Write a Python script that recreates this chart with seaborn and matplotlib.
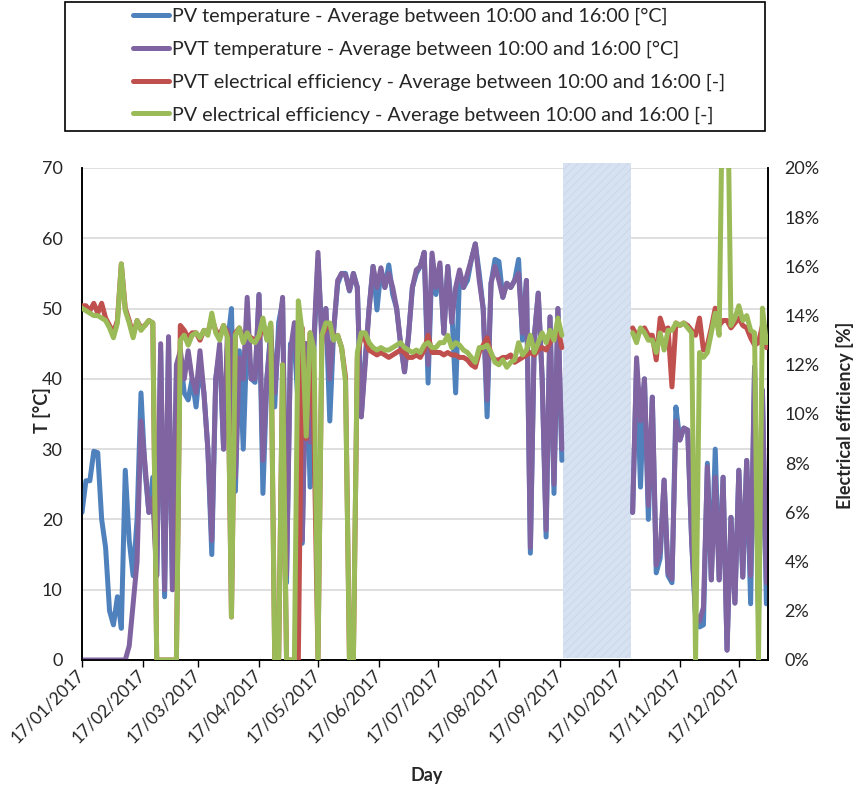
import numpy as np
import pandas as pd
import matplotlib
matplotlib.use("Agg")
import matplotlib.pyplot as plt
import matplotlib.dates as mdates
from matplotlib.lines import Line2D
from matplotlib.patches import Rectangle
from matplotlib.ticker import FuncFormatter, MultipleLocator
import seaborn as sns

nan = np.nan
# no measurements between 18/09 and 23/10 (17 two-day samples)
GAP = [nan] * 17

# two-day samples starting 17/01/2017
pv_temp = [
    21, 25.5, 25.5, 29.7, 29.5, 20, 16, 7, 5, 9,
    4.5, 27, 17, 12, 20, 38, 27, 21, 26, 12,
    44, 9, 45, 10, 40, 43, 38, 37, 40, 36,
    42, 38, 30, 15, 40, 44, 30, 45, 50, 24,
    44, 30, 47, 40, 39.5, 52, 23.7, 40, 47, 36,
    48, 51, 11, 45, 45, 36, 16.6, 45, 24.6, 45,
    57, 46, 50, 34, 47, 53.5, 55, 55, 52.5, 55,
    53, 34.6, 43, 50, 56, 49.8, 55.5, 53, 56.2, 52,
    50, 45, 41, 46, 53, 55, 56, 58, 39.4, 57,
    52, 56, 46.5, 56, 50, 38, 55, 53, 54, 57,
    59.2, 55, 50, 34.6, 53.6, 57, 56.7, 51.6, 53.6, 53,
    54, 57, 45.5, 54, 15.2, 46, 52.2, 40, 17.5, 48.8,
    23.7, 50, 28.4,
] + GAP + [
    21, 42, 24.6, 40, 20, 37.4, 12.4, 14.5, 25.6, 12,
    11, 36, 31.3, 33, 32.7, 17, 6, 4.7, 5, 28,
    11.4, 30, 11.4, 26, 1.4, 20.3, 8.1, 27, 11.8, 28.4,
    8, 41.7, 6.7, 38.4, 8,
]

pvt_temp = [
    0, 0, 0, 0, 0, 0, 0, 0, 0, 0,
    0, 0, 2, 8, 14, 34, 28, 21, 23, 12,
    45, 10, 46, 10, 42, 44, 40, 44, 40, 38,
    44, 38, 30, 17, 40, 45, 30, 47, 45, 26,
    43, 40, 51.6, 40, 40, 52, 28.4, 40, 46, 38,
    46, 51.6, 12, 44, 48, 38, 17, 45, 31, 46,
    58, 45, 50, 40, 47, 54, 55, 54.8, 52.6, 55,
    53, 34.6, 42, 50, 56, 53, 55.8, 53, 55, 53,
    50, 45, 41, 46, 53, 55.5, 56, 58, 42, 57.9,
    53, 56.5, 46.5, 56, 48, 53, 55.5, 53, 55, 57,
    59.2, 54, 50, 37, 53.6, 56, 54, 51.6, 53.6, 53,
    54, 55, 46.5, 54, 16, 46, 52.2, 40, 18.5, 48.8,
    25, 50, 30,
] + GAP + [
    21, 43, 34, 40, 22, 37.4, 13.5, 15.5, 25.6, 12.4,
    11.5, 34, 31.3, 33, 32.7, 17, 6.5, 5.5, 7.5, 27.5,
    11.4, 26, 11.4, 26, 1.4, 20.3, 8.1, 27, 11.8, 28.4,
    12, 41.7, 6.7, 38.4, 11,
]

# electrical efficiencies in %
pvt_eff = [
    14.4, 14.4, 14.2, 14.5, 14.1, 14.5, 13.9, 13.6, 13.3, 13.8,
    16.1, 14.3, 13.8, 13.2, 13.8, 13.5, 13.6, 13.8, 13.7, 0,
    0, 0, 0, 0, 0, 13.6, 13.4, 13.1, 13.3, 13.3,
    13.0, 13.4, 13.3, 13.9, 13.4, 13.2, 13.6, 13.2, 1.75, 13.3,
    13.5, 13.0, 13.2, 13.1, 13.0, 13.1, 13.6, 13.1, 13.6, 0,
    0, 12, 0, 0, 0, 0, 13.5, 9.0, 13.3, 9.1,
    0, 13.2, 13.5, 13.6, 13.1, 13.2, 12.7, 11.5, 0, 0,
    12.3, 13.2, 13.0, 12.6, 12.5, 12.4, 12.5, 12.4, 12.3, 12.4,
    12.5, 12.6, 12.5, 12.3, 12.3, 12.4, 12.3, 12.6, 13.2, 12.5,
    12.5, 12.5, 12.4, 12.5, 12.4, 12.4, 12.3, 12.3, 12.2, 12.0,
    11.9, 12.5, 12.8, 13.1, 12.4, 12.2, 12.2, 12.3, 12.3, 12.4,
    12.1, 12.2, 12.3, 12.4, 12.5, 12.4, 12.6, 12.7, 12.6, 12.9,
    13.2, 13.5, 12.7,
] + GAP + [
    13.5, 13.2, 13.4, 13.5, 13.2, 13.2, 12.2, 13.9, 13.4, 13.5,
    11.1, 13.7, 13.6, 13.7, 13.6, 13.4, 13.2, 13.9, 12.6, 12.8,
    13.5, 14.3, 13.6, 13.8, 13.8, 13.5, 13.7, 13.9, 13.6, 13.5,
    13.1, 12.8, 12.9, 13.6, 12.7,
]

pv_eff = [
    14.3, 14.2, 14.1, 14.0, 14.0, 13.9, 13.8, 13.5, 13.1, 13.7,
    16.1, 14.2, 13.7, 13.1, 13.8, 13.4, 13.6, 13.8, 13.7, 0,
    0, 0, 0, 0, 0, 13.0, 13.2, 12.8, 13.2, 13.3,
    13.1, 13.4, 13.2, 14.1, 13.3, 13.0, 13.6, 13.1, 1.75, 13.2,
    13.5, 12.9, 13.3, 13.0, 12.9, 13.2, 13.9, 13.0, 13.7, 0,
    0, 12, 0, 0, 0, 14.6, 13.3, 9.1, 13.3, 12.6,
    0, 13.2, 13.7, 13.7, 13.0, 13.2, 12.7, 11.3, 0, 0,
    12.5, 13.3, 13.3, 12.9, 12.7, 12.6, 12.7, 12.6, 12.6, 12.7,
    12.8, 12.9, 12.7, 12.6, 12.5, 12.6, 12.5, 12.8, 12.9, 12.7,
    12.7, 12.9, 12.9, 13.2, 12.7, 12.9, 12.8, 12.6, 12.5, 12.3,
    12.1, 12.7, 12.7, 12.8, 12.5, 12.1, 12.0, 12.2, 11.9, 12.1,
    12.2, 12.9, 12.4, 12.6, 13.2, 12.5, 12.9, 13.3, 12.9, 13.4,
    13.0, 13.9, 13.2,
] + GAP + [
    13.3, 12.9, 13.5, 13.3, 13.0, 13.0, 12.5, 13.3, 12.6, 13.4,
    13.4, 13.7, 13.6, 13.7, 13.5, 13.3, 0, 12.5, 12.3, 12.5,
    13.3, 14.1, 13.2, 25, 25, 13.6, 13.9, 14.4, 13.8, 14.0,
    13.4, 13.3, 0, 14.3, 12.9,
]

labels = [
    "PV temperature - Average between 10:00 and 16:00 [°C]",
    "PVT temperature - Average between 10:00 and 16:00 [°C]",
    "PVT electrical efficiency - Average between 10:00 and 16:00 [-]",
    "PV electrical efficiency - Average between 10:00 and 16:00 [-]",
]
tick_dates = pd.date_range("2017-01-01", periods=12, freq="MS") + pd.Timedelta(days=16)
gap_start, gap_end = pd.Timestamp("2017-09-18 12:00"), pd.Timestamp("2017-10-23")

dates = pd.date_range("2017-01-17", periods=len(pv_temp), freq="2D")
df = pd.DataFrame({
    "date": dates,
    "pv_temp": pv_temp,
    "pvt_temp": pvt_temp,
    "pvt_eff": pvt_eff,
    "pv_eff": pv_eff,
})
df["segment"] = np.where(df["date"] < gap_start, 0, 1)

BLUE, PURPLE, RED, GREEN = "#4f81bd", "#8064a2", "#c0504d", "#9bbb59"

sns.set_theme(style="white")
plt.rcParams["font.family"] = ["Lato", "DejaVu Sans"]
plt.rcParams["hatch.linewidth"] = 0.6

W, H = 857, 787
fig = plt.figure(figsize=(W / 100, H / 100), dpi=100)
ax = fig.add_axes([82 / W, 127 / H, 686 / W, 492 / H])
ax2 = ax.twinx()

LW = 3.6
line_kw = dict(units="segment", estimator=None, legend=False, lw=LW,
               solid_joinstyle="round", solid_capstyle="round")
sns.lineplot(data=df, x="date", y="pv_temp", color=BLUE, ax=ax, zorder=3, **line_kw)
sns.lineplot(data=df, x="date", y="pvt_temp", color=PURPLE, ax=ax, zorder=4, **line_kw)
sns.lineplot(data=df, x="date", y="pvt_eff", color=RED, ax=ax2, zorder=3, **line_kw)
sns.lineplot(data=df, x="date", y="pv_eff", color=GREEN, ax=ax2, zorder=4, **line_kw)

# missing-data period
ax.axvspan(gap_start, gap_end, ymin=0.004, ymax=1.0102, facecolor="#d6e1f1",
           edgecolor="#cad7ea", hatch="////", lw=0, zorder=2, clip_on=False)

ax.set_xticks(tick_dates)
ax.xaxis.set_major_formatter(mdates.DateFormatter("%d/%m/%Y"))
ax.set_xlim(pd.Timestamp("2017-01-17"), pd.Timestamp("2017-12-31 20:00"))
ax.set_ylim(0, 70)
ax2.set_ylim(0, 20)
ax.yaxis.set_major_locator(MultipleLocator(10))
ax2.yaxis.set_major_locator(MultipleLocator(2))
ax2.yaxis.set_major_formatter(FuncFormatter(lambda v, p: f"{v:.0f}%"))

ax.grid(axis="y", color="#d9d9d9", lw=1.2)
ax.grid(axis="x", visible=False)
ax2.grid(False)
ax.set_axisbelow(True)

ax.tick_params(axis="x", direction="out", length=5, width=1, color="black",
               labelsize=12.5, pad=4, bottom=True)
for t in ax.get_xticklabels():
    t.set_rotation(45)
    t.set_ha("right")
    t.set_va("center")
    t.set_rotation_mode("anchor")
ax.tick_params(axis="y", length=0, labelsize=13, pad=14)
ax2.tick_params(axis="y", length=0, labelsize=13, pad=12)

for a in (ax, ax2):
    a.set_xlabel("")
    a.set_ylabel("")
    for side in ("left", "bottom", "right"):
        a.spines[side].set_visible(True)
        a.spines[side].set_color("black")
        a.spines[side].set_linewidth(1.2)
    a.spines["top"].set_visible(False)

fig.text(42 / W, 1 - 410 / H, "T [°C]", rotation=90, ha="center", va="center",
         fontsize=13, fontweight="bold")
fig.text(845 / W, 1 - 415 / H, "Electrical efficiency [%]", rotation=90,
         ha="center", va="center", fontsize=13, fontweight="bold")
fig.text(427 / W, 1 - 775 / H, "Day", ha="center", va="center",
         fontsize=13, fontweight="bold")

handles = [Line2D([], [], color=c, lw=LW, solid_capstyle="round")
           for c in (BLUE, PURPLE, RED, GREEN)]
fig.add_artist(Rectangle((65 / W, 1 - 131 / H), 700 / W, 129 / H,
                         transform=fig.transFigure, fill=False,
                         ec="black", lw=1.2))
fig.legend(handles, labels, loc="upper left", bbox_to_anchor=(133 / W, 1 - 8 / H),
           frameon=False, fontsize=14.2, handlelength=1.85, handletextpad=0.15,
           labelspacing=0.78, borderpad=0, borderaxespad=0)

fig.savefig("out.png", dpi=100)
